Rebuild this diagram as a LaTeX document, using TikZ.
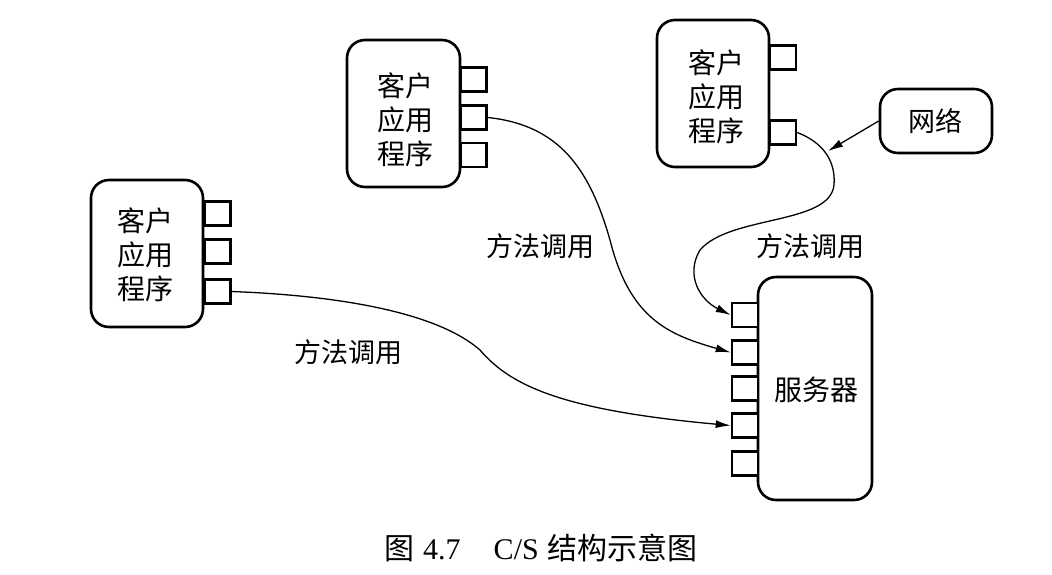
\documentclass[tikz,border=0pt]{standalone}
\usepackage{fontspec}
\setmainfont{Liberation Serif}
\newfontfamily\cjk{Noto Sans CJK SC}
\usetikzlibrary{arrows.meta}
\begin{document}
\begin{tikzpicture}[x=1pt,y=-1pt,
  module/.style={draw,line width=2.6pt,rounded corners=18pt,inner sep=0pt},
  mtxt/.style={inner sep=0pt,align=center,font=\cjk\fontsize{28}{34}\selectfont},
  port/.style={draw,line width=2.6pt,fill=white,inner sep=0pt,
    minimum width=26pt,minimum height=24pt},
  call/.style={line width=1.3pt,-{Latex[length=15pt,width=8pt]}},
  lbl/.style={font=\cjk\fontsize{27}{30}\selectfont,inner sep=0pt}]
\useasboundingbox (0,0) rectangle (1052,574);

% client application modules, the network and the server
\node[module,minimum width=113pt,minimum height=147pt] (c1) at (403.5,113.5) {};
\node[module,minimum width=112pt,minimum height=147pt] (c2) at (713,93.5) {};
\node[module,minimum width=112pt,minimum height=147pt] (c3) at (147,253.5) {};
\node[module,minimum width=112pt,minimum height=64pt] (net) at (936,121) {};
\node[module,minimum width=114pt,minimum height=223pt] (srv) at (815,388.5) {};

\node[mtxt] (c1t) at (405,120) {客户\\应用\\程序};
\node[mtxt] (c2t) at (716,97) {客户\\应用\\程序};
\node[mtxt] (c3t) at (145,255) {客户\\应用\\程序};
\node[lbl] (nett) at (935,121) {网络};
\node[mtxt] (srvt) at (816,390) {服务器};

% interface ports
\node[port] (c1p1) at (473.5,79.5) {};
\node[port] (c1p2) at (473.5,117.5) {};
\node[port] (c1p3) at (473.5,155) {};
\node[port] (c2p1) at (783,57.5) {};
\node[port] (c2p2) at (783,132.5) {};
\node[port] (c3p1) at (217.5,213.5) {};
\node[port] (c3p2) at (217.5,251.5) {};
\node[port] (c3p3) at (217.5,291.5) {};
\node[port] (s1) at (745,315) {};
\node[port] (s2) at (745,352.5) {};
\node[port] (s3) at (745,388.5) {};
\node[port] (s4) at (745,425.5) {};
\node[port] (s5) at (745,463.5) {};

% method calls
\draw[call] (c1p2.east) .. controls (560,125) and (590,170) .. (610,240)
  .. controls (630,320) and (670,335) .. (s2.west);
\draw[call] (c2p2.east) .. controls (822,142) and (836,160) .. (834,185)
  .. controls (830,225) and (730,215) .. (700,250)
  .. controls (685,275) and (700,300) .. (s1.west);
\draw[call] (c3p3.east) .. controls (350,296) and (440,315) .. (480,350)
  .. controls (510,385) and (560,410) .. (s4.west);

\coordinate (tap) at (828,151);
\draw[call] (net.west) -- (tap);

\node[lbl] (l1) at (540,246) {方法调用};
\node[lbl] (l2) at (810,246) {方法调用};
\node[lbl] (l3) at (348,352) {方法调用};

\node[inner sep=0pt,font=\fontsize{30}{34}\selectfont] (cap) at (541,548)
  {{\cjk 图}\hspace{0.3em}4.7\hspace{1.1em}C/S\hspace{0.3em}{\cjk 结构示意图}};
\end{tikzpicture}
\end{document}
